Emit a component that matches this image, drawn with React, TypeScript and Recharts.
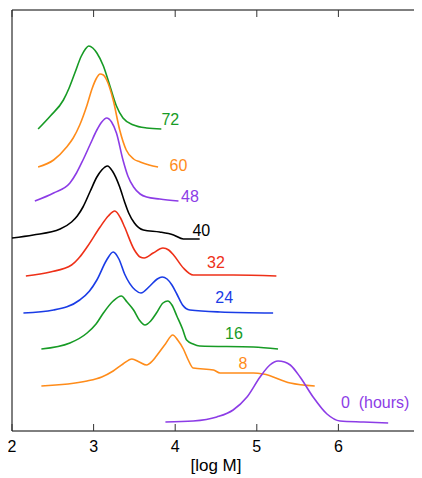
import { LineChart, Line, XAxis, YAxis, ReferenceArea, ReferenceDot, Label } from 'recharts'

// hours after start, top curve first
const hours = ['72', '60', '48', '40', '32', '24', '16', '8', '0\u00a0 (hours)']
// vertical offset of each trace (stacked plot)
const offsets = [3.02, 2.64, 2.30, 1.92, 1.55, 1.18, 0.82, 0.45, 0.09]
const colors = ['#179b25', '#ff8c1a', '#8c3ce6', '#000000', '#ee3018', '#1a3ce6', '#179b25', '#ff8c1a', '#8c3ce6']

// [log M, signal]
const h72: [number, number][] = [
  [2.32, 0], [2.47, 0.13], [2.63, 0.29], [2.7, 0.41], [2.77, 0.56], [2.85, 0.73], [2.9, 0.8],
  [2.94, 0.83], [2.99, 0.81], [3.04, 0.76], [3.12, 0.63], [3.2, 0.43], [3.28, 0.23], [3.36, 0.11],
  [3.49, 0.04], [3.65, 0.01], [3.83, 0],
]
const h60: [number, number][] = [
  [2.32, 0], [2.51, 0.07], [2.67, 0.2], [2.75, 0.29], [2.83, 0.42], [2.92, 0.62], [2.98, 0.78],
  [3.03, 0.88], [3.08, 0.93], [3.12, 0.92], [3.16, 0.87], [3.24, 0.67], [3.32, 0.37], [3.4, 0.17],
  [3.49, 0.08], [3.57, 0.05], [3.68, 0.02], [3.79, 0],
]
const h48: [number, number][] = [
  [2.28, 0], [2.51, 0.08], [2.71, 0.18], [2.79, 0.28], [2.87, 0.41], [2.96, 0.57], [3.04, 0.71],
  [3.1, 0.79], [3.16, 0.83], [3.22, 0.79], [3.28, 0.68], [3.36, 0.41], [3.42, 0.25], [3.49, 0.14],
  [3.57, 0.07], [3.65, 0.04], [3.81, 0.02], [4.04, 0],
]
const h40: [number, number][] = [
  [2.0, 0.01], [2.26, 0.04], [2.59, 0.1], [2.73, 0.17], [2.8, 0.23], [2.87, 0.32], [2.96, 0.48],
  [3.04, 0.62], [3.1, 0.69], [3.17, 0.73], [3.23, 0.68], [3.32, 0.52], [3.38, 0.37], [3.43, 0.26],
  [3.5, 0.16], [3.61, 0.09], [3.81, 0.07], [3.98, 0.04], [4.1, 0], [4.3, 0],
]
const h32: [number, number][] = [
  [2.17, 0], [2.47, 0.04], [2.73, 0.11], [2.83, 0.19], [2.92, 0.29], [3.08, 0.49], [3.18, 0.6],
  [3.26, 0.65], [3.33, 0.58], [3.38, 0.49], [3.5, 0.26], [3.57, 0.19], [3.62, 0.18], [3.73, 0.23],
  [3.85, 0.28], [3.92, 0.26], [3.98, 0.21], [4.1, 0.08], [4.22, 0.01], [4.71, 0.01], [5.24, 0],
]
const h24: [number, number][] = [
  [2.14, 0], [2.51, 0.03], [2.83, 0.13], [2.95, 0.22], [3.04, 0.33], [3.16, 0.53], [3.24, 0.61],
  [3.31, 0.54], [3.38, 0.39], [3.51, 0.23], [3.58, 0.2], [3.69, 0.27], [3.78, 0.34], [3.84, 0.36],
  [3.9, 0.34], [3.96, 0.28], [4.02, 0.19], [4.09, 0.08], [4.18, 0.03], [4.55, 0.01], [5.2, 0],
]
const h16: [number, number][] = [
  [2.36, 0], [2.71, 0.06], [2.92, 0.16], [3.03, 0.25], [3.12, 0.36], [3.24, 0.48], [3.34, 0.53],
  [3.41, 0.47], [3.49, 0.39], [3.56, 0.29], [3.63, 0.24], [3.7, 0.28], [3.77, 0.36], [3.85, 0.46],
  [3.91, 0.48], [3.96, 0.44], [4.02, 0.33], [4.09, 0.2], [4.14, 0.09], [4.22, 0.05], [4.3, 0.03],
  [4.96, 0.02], [5.26, 0],
]
const h8: [number, number][] = [
  [2.36, 0], [2.92, 0.05], [3.1, 0.09], [3.24, 0.15], [3.36, 0.22], [3.47, 0.27], [3.56, 0.24],
  [3.65, 0.21], [3.72, 0.25], [3.77, 0.3], [3.88, 0.42], [3.97, 0.51], [4.03, 0.46], [4.1, 0.37],
  [4.16, 0.26], [4.22, 0.18], [4.47, 0.16], [4.55, 0.13], [4.96, 0.13], [5.08, 0.12], [5.41, 0.03],
  [5.71, 0],
]
const h0: [number, number][] = [
  [3.88, 0], [4.22, 0.01], [4.51, 0.05], [4.71, 0.12], [4.88, 0.25], [5.04, 0.45], [5.16, 0.57],
  [5.26, 0.61], [5.34, 0.6], [5.41, 0.57], [5.53, 0.45], [5.69, 0.25], [5.86, 0.08], [6.02, 0.01],
  [6.31, 0], [6.61, -0.01],
]
const traces = [h72, h60, h48, h40, h32, h24, h16, h8, h0]

// where the hour labels sit, in chart units
const labelX = [3.94, 4.04, 4.18, 4.32, 4.5, 4.6, 4.72, 4.83, 6.45]
const labelY = [3.12, 2.66, 2.35, 2.01, 1.69, 1.34, 0.98, 0.68, 0.29]

const xTicks = [2, 3, 4, 5, 6, 7]
const Y_MAX = 4.21
const FONT = '"Liberation Sans", Arial, Helvetica, sans-serif'

// page is exactly as tall as the window; keep scrollbars away
if (typeof document !== 'undefined') document.documentElement.style.overflow = 'hidden'

export default function App() {
  const series = traces.map((pts, i) => pts.map(([x, s]) => ({ x, y: s + offsets[i] })))

  return (
    <div style={{ width: 414, height: 470, fontFamily: FONT }}>
      <LineChart width={414} height={470} margin={{ top: 1, right: 2, left: 4, bottom: 0 }} style={{ overflow: 'visible' }}>
        <XAxis
          xAxisId="top"
          orientation="top"
          type="number"
          dataKey="x"
          domain={[2, 7]}
          ticks={xTicks}
          interval={0}
          height={1}
          axisLine={false}
          tickSize={-7}
          tickLine={{ stroke: '#333' }}
          tickFormatter={() => ''}
          allowDataOverflow
        />
        <XAxis
          type="number"
          dataKey="x"
          domain={[2, 7]}
          ticks={xTicks}
          interval={0}
          height={47}
          axisLine={false}
          tickSize={-7}
          tickMargin={17}
          tickLine={{ stroke: '#333' }}
          tick={{ fill: '#000', fontSize: 16, fontFamily: FONT }}
          allowDataOverflow
        >
          <Label value="[log M]" position="insideBottom" offset={7} fill="#000" fontSize={17} fontFamily={FONT} />
        </XAxis>
        <YAxis type="number" domain={[0, Y_MAX]} hide allowDataOverflow />
        <ReferenceArea x1={2} x2={7} y1={0} y2={Y_MAX} fill="none" fillOpacity={0} stroke="#000" strokeWidth={1} ifOverflow="visible" />
        {series.map((data, i) => (
          <Line
            key={hours[i]}
            data={data}
            dataKey="y"
            type="monotone"
            stroke={colors[i]}
            strokeWidth={1.6}
            dot={false}
            isAnimationActive={false}
          />
        ))}
        {hours.map((h, i) => (
          <ReferenceDot
            key={'lbl' + i}
            x={labelX[i]}
            y={labelY[i]}
            r={1}
            fill="none"
            stroke="none"
            label={{ value: h, position: 'center', fill: colors[i], fontSize: 16, fontFamily: FONT }}
          />
        ))}
      </LineChart>
    </div>
  )
}
